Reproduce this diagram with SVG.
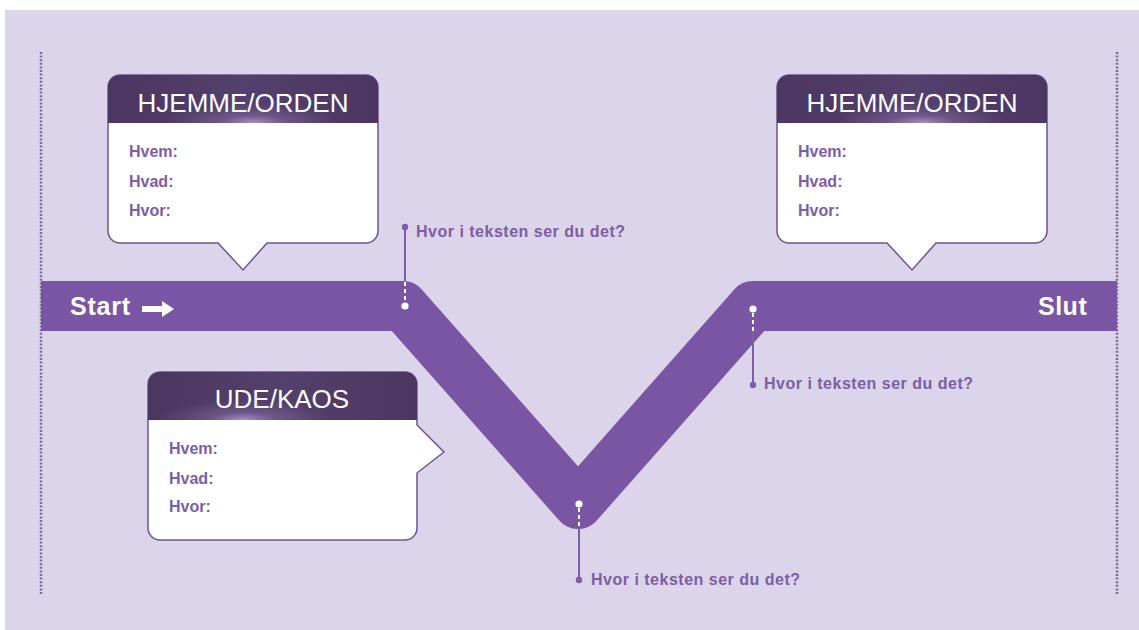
<svg xmlns="http://www.w3.org/2000/svg" width="1139" height="630" viewBox="0 0 1139 630">
<style>
.hdr{font-family:"Liberation Sans",Arial,sans-serif;font-size:26px;fill:#ffffff;text-anchor:middle}
.lbl{font-family:"Liberation Sans",Arial,sans-serif;font-size:16px;font-weight:bold;fill:#7b5ea6}
.q{font-family:"Liberation Sans",Arial,sans-serif;font-size:16px;font-weight:bold;fill:#7b5ea6;letter-spacing:0.5px}
.big{font-family:"Liberation Sans",Arial,sans-serif;font-size:25px;font-weight:bold;fill:#ffffff}
.body{fill:#ffffff;stroke:#6d5690;stroke-width:1.5}
.head{fill:url(#hg)}
.glow{fill:url(#gl)}
.dot{fill:#7b5ea6}
.wdot{fill:#ffffff}
.stem{stroke:#7b5ea6;stroke-width:2;fill:none}
.dash{stroke:#ffffff;stroke-width:2;stroke-dasharray:4 3;fill:none}
.edge{stroke:#7c6c9c;stroke-width:2.5;stroke-dasharray:2 1.6;fill:none}
</style>
<defs>
<linearGradient id="hg" x1="0" y1="0" x2="1" y2="0">
<stop offset="0" stop-color="#4a3660"/>
<stop offset="0.5" stop-color="#54406c"/>
<stop offset="1" stop-color="#4a3660"/>
</linearGradient>
<radialGradient id="gl" cx="0.5" cy="1" r="0.5">
<stop offset="0" stop-color="#c2aee0" stop-opacity="0.75"/>
<stop offset="0.4" stop-color="#a48cc4" stop-opacity="0.3"/>
<stop offset="1" stop-color="#a48cc4" stop-opacity="0"/>
</radialGradient>
</defs>
<rect x="0" y="0" width="1139" height="630" fill="#ffffff"/>
<rect x="5" y="10" width="1134" height="620" fill="#dbd4ea"/>
<line class="edge" x1="41" y1="52" x2="41" y2="594"/>
<line class="edge" x1="1117" y1="52" x2="1117" y2="594"/>

<g id="connectors">
<polyline points="41,306 403,306 578,504 753,306 1117,306" fill="none" stroke="#7a55a3" stroke-width="50" stroke-linejoin="round"/>
<g id="marker1">
<line class="stem" x1="405" y1="227" x2="405" y2="281"/>
<circle class="dot" cx="405" cy="227" r="3.2"/>
<line class="dash" x1="405" y1="282" x2="405" y2="302"/>
<circle class="wdot" cx="405" cy="306" r="3.6"/>
<text class="q" x="416" y="237">Hvor i teksten ser du det?</text>
</g>
<g id="marker2">
<circle class="wdot" cx="579" cy="504" r="3.6"/>
<line class="dash" x1="579" y1="508" x2="579" y2="528"/>
<line class="stem" x1="579" y1="529" x2="579" y2="580"/>
<circle class="dot" cx="579" cy="580" r="3.2"/>
<text class="q" x="591" y="585">Hvor i teksten ser du det?</text>
</g>
<g id="marker3">
<circle class="wdot" cx="753" cy="309" r="3.6"/>
<line class="dash" x1="753" y1="313" x2="753" y2="331"/>
<line class="stem" x1="753" y1="332" x2="753" y2="385"/>
<circle class="dot" cx="753" cy="385" r="3.2"/>
<text class="q" x="764" y="389">Hvor i teksten ser du det?</text>
</g>
</g>

<g id="start">
<text class="big" x="70" y="315" letter-spacing="0.8">Start</text>
<path d="M142,306 H162 V301 L174,309 L162,317 V312 H142 Z" fill="#ffffff"/>
</g>
<g id="slut">
<text class="big" x="1038" y="315" letter-spacing="0.5">Slut</text>
</g>

<g id="box-hjemme-left" transform="translate(108,75)">
<path class="body" d="M12,0 H258 A12,12 0 0 1 270,12 V156 A12,12 0 0 1 258,168 H159 L135,195 L110,168 H12 A12,12 0 0 1 0,156 V12 A12,12 0 0 1 12,0 Z"/>
<path class="head" d="M12,0 H258 A12,12 0 0 1 270,12 V48 H0 V12 A12,12 0 0 1 12,0 Z"/>
<rect class="glow" x="60" y="8" width="170" height="40"/>
<text class="hdr" x="135" y="37">HJEMME/ORDEN</text>
<text class="lbl" x="21" y="82">Hvem:</text>
<text class="lbl" x="21" y="112">Hvad:</text>
<text class="lbl" x="21" y="141">Hvor:</text>
</g>

<g id="box-hjemme-right" transform="translate(777,75)">
<path class="body" d="M12,0 H258 A12,12 0 0 1 270,12 V156 A12,12 0 0 1 258,168 H159 L135,195 L110,168 H12 A12,12 0 0 1 0,156 V12 A12,12 0 0 1 12,0 Z"/>
<path class="head" d="M12,0 H258 A12,12 0 0 1 270,12 V48 H0 V12 A12,12 0 0 1 12,0 Z"/>
<rect class="glow" x="60" y="8" width="170" height="40"/>
<text class="hdr" x="135" y="37">HJEMME/ORDEN</text>
<text class="lbl" x="21" y="82">Hvem:</text>
<text class="lbl" x="21" y="112">Hvad:</text>
<text class="lbl" x="21" y="141">Hvor:</text>
</g>

<g id="box-ude" transform="translate(148,372)">
<path class="body" d="M12,0 H257 A12,12 0 0 1 269,12 V53 L296,80 L269,101 V156 A12,12 0 0 1 257,168 H12 A12,12 0 0 1 0,156 V12 A12,12 0 0 1 12,0 Z"/>
<path class="head" d="M12,0 H257 A12,12 0 0 1 269,12 V48 H0 V12 A12,12 0 0 1 12,0 Z"/>
<rect class="glow" x="10" y="8" width="170" height="40"/>
<text class="hdr" x="134" y="36">UDE/KAOS</text>
<text class="lbl" x="21" y="82">Hvem:</text>
<text class="lbl" x="21" y="112">Hvad:</text>
<text class="lbl" x="21" y="140">Hvor:</text>
</g>
</svg>
